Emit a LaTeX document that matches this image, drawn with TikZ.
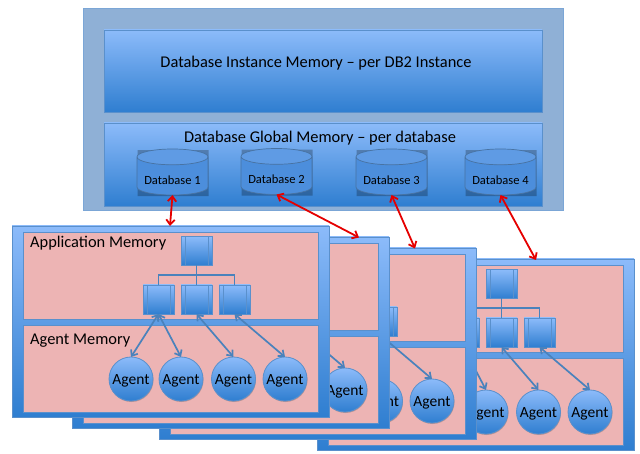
\documentclass[tikz,border=0pt]{standalone}
\usepackage{fontspec}
\setmainfont{Carlito}
\usetikzlibrary{shadows,shapes.geometric,arrows.meta}
\definecolor{bluetop}{HTML}{8CBBFA}
\definecolor{bluebot}{HTML}{2F7ED0}
\definecolor{edgeblue}{HTML}{5A90CC}
\definecolor{pinkfill}{HTML}{EDB4B4}
\definecolor{paleblue}{HTML}{8FB0D6}
\definecolor{linkblue}{HTML}{4A82BC}
\definecolor{dbbody}{HTML}{4C8EDC}
\definecolor{dbend}{HTML}{5F9BE4}
\tikzset{
  softshadow/.style={drop shadow={shadow xshift=0.5pt,shadow yshift=-1pt,opacity=0.3,fill=black!70}},
  gradbox/.style={rectangle,draw=edgeblue,line width=0.8pt,top color=bluetop,bottom color=bluebot,anchor=north west,inner sep=0pt,outer sep=0pt,softshadow},
  palebox/.style={rectangle,draw=edgeblue!80,line width=0.8pt,fill=paleblue,anchor=north west,inner sep=0pt,outer sep=0pt,softshadow},
  pinkbox/.style={rectangle,draw=edgeblue,line width=0.8pt,fill=pinkfill,anchor=north west,inner sep=0pt,outer sep=0pt,softshadow},
  procbox/.style={gradbox,anchor=center,minimum width=31pt,minimum height=29pt,
    path picture={\draw[edgeblue,line width=0.7pt]
      ([xshift=4pt]path picture bounding box.north west)--([xshift=4pt]path picture bounding box.south west)
      ([xshift=-4pt]path picture bounding box.north east)--([xshift=-4pt]path picture bounding box.south east);}},
  agentnode/.style={circle,draw=edgeblue,line width=0.8pt,top color=bluetop,bottom color=bluebot,minimum size=44pt,inner sep=0pt,outer sep=0pt,softshadow,font=\fontsize{15.5}{16}\selectfont,text=black},
  dbshape/.style={cylinder,shape border rotate=90,aspect=0.28,anchor=shape center,
    minimum width=71pt,minimum height=46pt,inner sep=0pt,outer sep=0pt},
  dbnode/.style={dbshape,draw=edgeblue!80!black,line width=0.7pt,
    cylinder uses custom fill,cylinder body fill=dbbody,cylinder end fill=dbend,
    font=\fontsize{12.5}{13}\selectfont,text=black},
  dbshadow/.style={dbshape,fill=black,opacity=0.25},
  treeline/.style={draw=linkblue,line width=1.7pt},
  linkarrow/.style={draw=linkblue,line width=1.7pt,{Straight Barb[length=5pt,width=8pt]}-{Straight Barb[length=5pt,width=8pt]}},
  redarrow/.style={draw=red!90!black,line width=1.8pt,{Straight Barb[length=5pt,width=8.5pt]}-{Straight Barb[length=5pt,width=8.5pt]}},
  headtext/.style={anchor=center,inner sep=0pt,text=black,font=\fontsize{16.4}{17}\selectfont},
}
\newcommand{\agenttext}{\smash{\raisebox{-5pt}{Agent}}}
\newcommand{\memstack}[3]{%
  \begin{scope}[shift={(#2,#3)}]
    \node[gradbox,minimum width=317pt,minimum height=191pt] (#1outer) at (12,226) {};
    \node[pinkbox,minimum width=295pt,minimum height=87pt] (#1app) at (23,232) {};
    \node[pinkbox,minimum width=295pt,minimum height=87pt] (#1agm) at (23,325) {};
    \node[procbox] (#1top) at (196.5,251) {};
    \node[procbox] (#1pa) at (158.5,299.5) {};
    \node[procbox] (#1pb) at (196.5,299.5) {};
    \node[procbox] (#1pc) at (234.5,299.5) {};
    \node[agentnode] (#1aa) at (131,379) {\agenttext};
    \node[agentnode] (#1ab) at (181,379) {\agenttext};
    \node[agentnode] (#1ac) at (233.5,379) {\agenttext};
    \node[agentnode] (#1ad) at (285,379) {\agenttext};
    \draw[treeline] (#1top.south) -- (#1pb.north);
    \draw[treeline] (#1pa.north) -- ++(0,-10) -| (#1pc.north);
    \draw[linkarrow] (#1pa.south) -- (#1aa.north);
    \draw[linkarrow] (#1pa.south) -- (#1ab.north);
    \draw[linkarrow] (#1pb.south) -- (#1ac.north);
    \draw[linkarrow] (#1pc.south) -- (#1ad.north);
  \end{scope}}
\newcommand{\dbcyl}[5]{%
  \node[dbshadow] (#1shadow) at (#2+0.6,#3+1.2) {};
  \node[dbnode] (#1) at (#2,#3) {\smash{\raisebox{#5}{#4}}};}
\begin{document}
\begin{tikzpicture}[x=1pt,y=-1pt]
  \useasboundingbox (0,0) rectangle (640,454);
  \node[palebox,minimum width=480pt,minimum height=202pt] (instance) at (83,8) {};
  \node[gradbox,minimum width=438pt,minimum height=82pt] (instmem) at (104,30) {};
  \node[gradbox,minimum width=438pt,minimum height=83pt] (globmem) at (104,123) {};
  \node[headtext] (insttext) at (316,63) {Database Instance Memory – per DB2 Instance};
  \node[headtext] (globtext) at (320,138.5) {Database Global Memory – per database};
  \dbcyl{db1}{172.5}{172}{Database 1}{-8.5pt}
  \dbcyl{db2}{276.5}{171.5}{Database 2}{-8pt}
  \dbcyl{db3}{391.5}{172}{Database 3}{-8.5pt}
  \dbcyl{db4}{500.5}{172}{Database 4}{-8.5pt}
  \memstack{d}{305}{33}
  \memstack{c}{147}{22}
  \memstack{b}{60}{11}
  \memstack{a}{0}{0}
  \node[headtext,anchor=west] (applabel) at (30,243) {Application Memory};
  \node[headtext,anchor=west] (agentlabel) at (30,341) {Agent Memory};
  \coordinate (r1) at (170,226);
  \coordinate (r2) at (359,237.5);
  \coordinate (r3) at (415,248.5);
  \coordinate (r4) at (536,260);
  \draw[redarrow] (db1.south) -- (r1);
  \draw[redarrow] (db2.south) -- (r2);
  \draw[redarrow] (db3.south) -- (r3);
  \draw[redarrow] (db4.south) -- (r4);
\end{tikzpicture}
\end{document}
